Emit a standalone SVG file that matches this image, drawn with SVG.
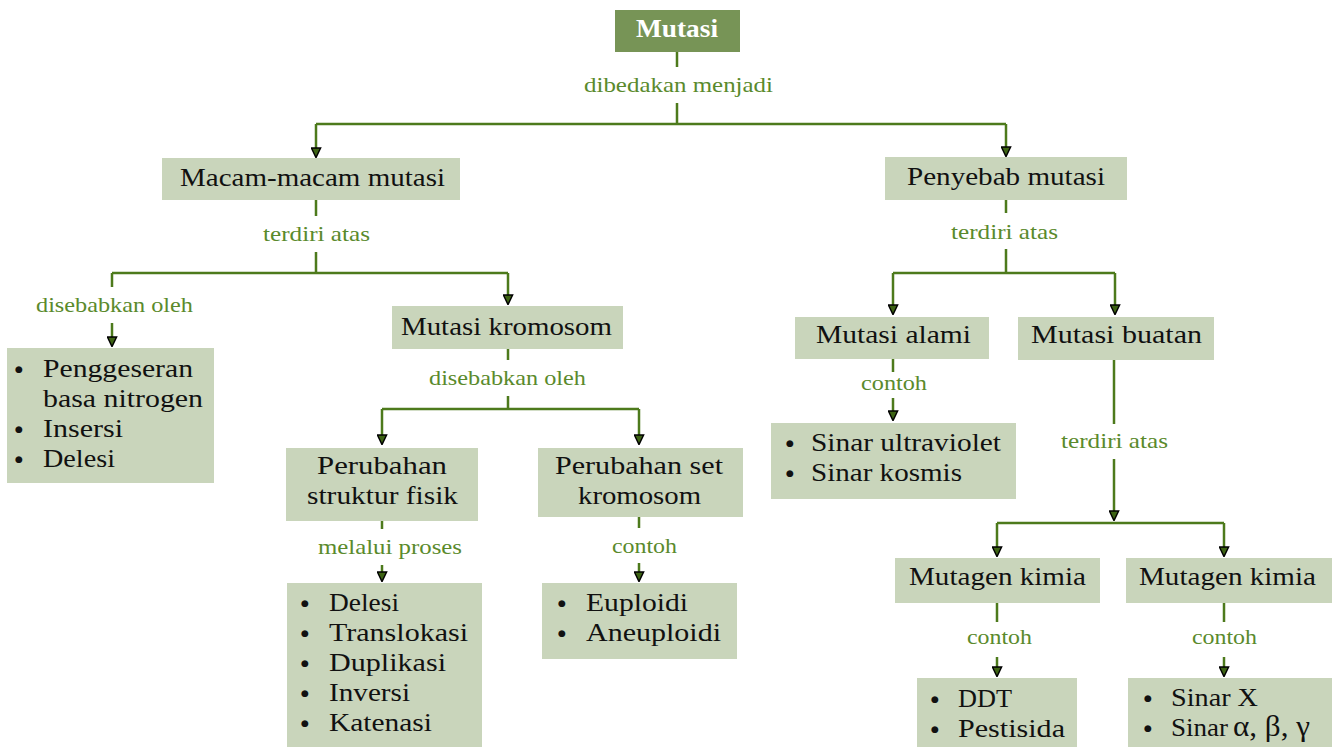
<svg xmlns="http://www.w3.org/2000/svg" width="1332" height="747" viewBox="0 0 1332 747">
<defs>
<style>
.box{fill:#c9d5bb}
.top{fill:#779456}
.t{font-family:"Liberation Serif","Times New Roman",serif;font-size:25px;fill:#111}
.tb{font-family:"Liberation Serif","Times New Roman",serif;font-size:25px;font-weight:bold;fill:#fff}
.lbl{font-family:"Liberation Serif","Times New Roman",serif;font-size:21px;fill:#5a8a2c}
.bul{font-family:"DejaVu Sans",sans-serif;font-size:9px;fill:#111;text-anchor:middle}
.c{fill:none;stroke:#4d7a1c;stroke-width:2.5}
</style>
<marker id="ah" viewBox="0 0 10 10" refX="7" refY="5" markerWidth="11" markerHeight="11" markerUnits="userSpaceOnUse" orient="auto">
<path d="M0.6,0.8 L9.4,5 L0.6,9.2 z" fill="#3d6314" stroke="#000" stroke-width="1.3"/>
</marker>
</defs>
<rect width="1332" height="747" fill="#fff"/>

<g id="connectors">
<path class="c" d="M677 52V67M677 103V124M316 124H1006"/>
<path class="c" d="M316 124V155" marker-end="url(#ah)"/>
<path class="c" d="M1006 124V154" marker-end="url(#ah)"/>
<path class="c" d="M316 200V216M316 252V273M112 273H508M112 273V287"/>
<path class="c" d="M112 323V344" marker-end="url(#ah)"/>
<path class="c" d="M508 273V302" marker-end="url(#ah)"/>
<path class="c" d="M508 349V360M508 396V409M382 409H639"/>
<path class="c" d="M382 409V442" marker-end="url(#ah)"/>
<path class="c" d="M639 409V442" marker-end="url(#ah)"/>
<path class="c" d="M382 521V529M639 517V528"/>
<path class="c" d="M382 565V579" marker-end="url(#ah)"/>
<path class="c" d="M639 563V579" marker-end="url(#ah)"/>
<path class="c" d="M1006 200V213M1006 249V273M893 273H1115"/>
<path class="c" d="M893 273V312" marker-end="url(#ah)"/>
<path class="c" d="M1115 273V312" marker-end="url(#ah)"/>
<path class="c" d="M893 359V372"/>
<path class="c" d="M893 398V418" marker-end="url(#ah)"/>
<path class="c" d="M1114 360V424"/>
<path class="c" d="M1114 459V518" marker-end="url(#ah)"/>
<path class="c" d="M997 523H1224"/>
<path class="c" d="M997 523V554" marker-end="url(#ah)"/>
<path class="c" d="M1224 523V554" marker-end="url(#ah)"/>
<path class="c" d="M997 603V622M1224 603V622"/>
<path class="c" d="M997 657V674" marker-end="url(#ah)"/>
<path class="c" d="M1224 657V674" marker-end="url(#ah)"/>
</g>

<g id="labels">
<text class="lbl" x="584" y="92" textLength="189" lengthAdjust="spacingAndGlyphs">dibedakan menjadi</text>
<text class="lbl" x="263" y="241" textLength="107" lengthAdjust="spacingAndGlyphs">terdiri atas</text>
<text class="lbl" x="36" y="312" textLength="157" lengthAdjust="spacingAndGlyphs">disebabkan oleh</text>
<text class="lbl" x="429" y="385" textLength="157" lengthAdjust="spacingAndGlyphs">disebabkan oleh</text>
<text class="lbl" x="318" y="554" textLength="144" lengthAdjust="spacingAndGlyphs">melalui proses</text>
<text class="lbl" x="612" y="553" textLength="65" lengthAdjust="spacingAndGlyphs">contoh</text>
<text class="lbl" x="951" y="239" textLength="107" lengthAdjust="spacingAndGlyphs">terdiri atas</text>
<text class="lbl" x="861" y="390" textLength="66" lengthAdjust="spacingAndGlyphs">contoh</text>
<text class="lbl" x="1061" y="448" textLength="107" lengthAdjust="spacingAndGlyphs">terdiri atas</text>
<text class="lbl" x="967" y="644" textLength="65" lengthAdjust="spacingAndGlyphs">contoh</text>
<text class="lbl" x="1192" y="644" textLength="65" lengthAdjust="spacingAndGlyphs">contoh</text>
</g>

<g id="n-mutasi">
<rect class="top" x="615" y="10" width="125" height="42"/>
<text class="tb" x="636" y="37" textLength="82" lengthAdjust="spacingAndGlyphs">Mutasi</text>
</g>

<g id="n-macam">
<rect class="box" x="162" y="158" width="298" height="42"/>
<text class="t" x="180" y="186" textLength="265" lengthAdjust="spacingAndGlyphs">Macam-macam mutasi</text>
</g>

<g id="n-penggeseran">
<rect class="box" x="7" y="348" width="207" height="135"/>
<text class="bul" x="19" y="372">●</text>
<text class="bul" x="19" y="432">●</text>
<text class="bul" x="19" y="462">●</text>
<text class="t" x="43" y="377" textLength="150" lengthAdjust="spacingAndGlyphs">Penggeseran</text>
<text class="t" x="43" y="407" textLength="160" lengthAdjust="spacingAndGlyphs">basa nitrogen</text>
<text class="t" x="43" y="437" textLength="80" lengthAdjust="spacingAndGlyphs">Insersi</text>
<text class="t" x="43" y="467" textLength="72" lengthAdjust="spacingAndGlyphs">Delesi</text>
</g>

<g id="n-kromosom">
<rect class="box" x="392" y="306" width="231" height="43"/>
<text class="t" x="401" y="335" textLength="211" lengthAdjust="spacingAndGlyphs">Mutasi kromosom</text>
</g>

<g id="n-struktur">
<rect class="box" x="286" y="448" width="192" height="73"/>
<text class="t" x="317" y="474" textLength="130" lengthAdjust="spacingAndGlyphs">Perubahan</text>
<text class="t" x="307" y="504" textLength="151" lengthAdjust="spacingAndGlyphs">struktur fisik</text>
</g>

<g id="n-set">
<rect class="box" x="538" y="448" width="205" height="69"/>
<text class="t" x="555" y="474" textLength="168" lengthAdjust="spacingAndGlyphs">Perubahan set</text>
<text class="t" x="578" y="504" textLength="123" lengthAdjust="spacingAndGlyphs">kromosom</text>
</g>

<g id="n-proses-list">
<rect class="box" x="287" y="583" width="195" height="164"/>
<text class="bul" x="305" y="606">●</text>
<text class="bul" x="305" y="636">●</text>
<text class="bul" x="305" y="666">●</text>
<text class="bul" x="305" y="696">●</text>
<text class="bul" x="305" y="726">●</text>
<text class="t" x="329" y="611" textLength="70" lengthAdjust="spacingAndGlyphs">Delesi</text>
<text class="t" x="329" y="641" textLength="139" lengthAdjust="spacingAndGlyphs">Translokasi</text>
<text class="t" x="329" y="671" textLength="117" lengthAdjust="spacingAndGlyphs">Duplikasi</text>
<text class="t" x="329" y="701" textLength="81" lengthAdjust="spacingAndGlyphs">Inversi</text>
<text class="t" x="329" y="731" textLength="103" lengthAdjust="spacingAndGlyphs">Katenasi</text>
</g>

<g id="n-ploidi">
<rect class="box" x="542" y="583" width="195" height="76"/>
<text class="bul" x="562" y="606">●</text>
<text class="bul" x="562" y="636">●</text>
<text class="t" x="586" y="611" textLength="102" lengthAdjust="spacingAndGlyphs">Euploidi</text>
<text class="t" x="586" y="641" textLength="135" lengthAdjust="spacingAndGlyphs">Aneuploidi</text>
</g>

<g id="n-penyebab">
<rect class="box" x="885" y="157" width="242" height="43"/>
<text class="t" x="907" y="185" textLength="198" lengthAdjust="spacingAndGlyphs">Penyebab mutasi</text>
</g>

<g id="n-alami">
<rect class="box" x="795" y="317" width="194" height="42"/>
<text class="t" x="816" y="343" textLength="155" lengthAdjust="spacingAndGlyphs">Mutasi alami</text>
</g>

<g id="n-buatan">
<rect class="box" x="1018" y="317" width="196" height="43"/>
<text class="t" x="1031" y="343" textLength="171" lengthAdjust="spacingAndGlyphs">Mutasi buatan</text>
</g>

<g id="n-sinar-alami">
<rect class="box" x="771" y="423" width="245" height="76"/>
<text class="bul" x="790" y="446">●</text>
<text class="bul" x="790" y="476">●</text>
<text class="t" x="811" y="451" textLength="190" lengthAdjust="spacingAndGlyphs">Sinar ultraviolet</text>
<text class="t" x="811" y="481" textLength="151" lengthAdjust="spacingAndGlyphs">Sinar kosmis</text>
</g>

<g id="n-kimia1">
<rect class="box" x="895" y="558" width="205" height="45"/>
<text class="t" x="909" y="585" textLength="177" lengthAdjust="spacingAndGlyphs">Mutagen kimia</text>
</g>

<g id="n-kimia2">
<rect class="box" x="1126" y="558" width="206" height="45"/>
<text class="t" x="1139" y="585" textLength="177" lengthAdjust="spacingAndGlyphs">Mutagen kimia</text>
</g>

<g id="n-ddt">
<rect class="box" x="917" y="678" width="160" height="69"/>
<text class="bul" x="935" y="702">●</text>
<text class="bul" x="935" y="732">●</text>
<text class="t" x="958" y="707" textLength="54" lengthAdjust="spacingAndGlyphs">DDT</text>
<text class="t" x="958" y="737" textLength="107" lengthAdjust="spacingAndGlyphs">Pestisida</text>
</g>

<g id="n-sinarx">
<rect class="box" x="1128" y="678" width="204" height="69"/>
<text class="bul" x="1148" y="701">●</text>
<text class="bul" x="1148" y="731">●</text>
<text class="t" x="1171" y="706" textLength="87" lengthAdjust="spacingAndGlyphs">Sinar X</text>
<text class="t" x="1171" y="736"><tspan textLength="57" lengthAdjust="spacingAndGlyphs">Sinar</tspan><tspan x="1233" font-size="29" textLength="77" lengthAdjust="spacingAndGlyphs">α, β, γ</tspan></text>
</g>
</svg>
